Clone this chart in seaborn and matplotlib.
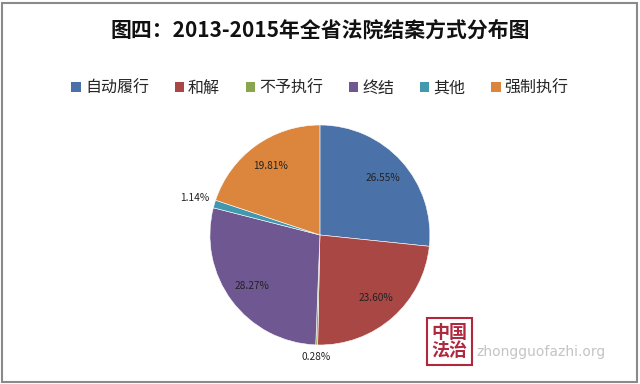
import numpy as np
import matplotlib
matplotlib.use("Agg")
import matplotlib.pyplot as plt
from matplotlib.patches import Rectangle
import seaborn as sns

categories = ["自动履行", "和解", "不予执行", "终结", "其他", "强制执行"]
values = [26.55, 23.60, 0.28, 28.27, 1.14, 19.81]
colors = ["#4A72A8", "#A94744", "#8AA54E", "#6F5791", "#4298AF", "#DC853D"]
title = "图四：2013-2015年全省法院结案方式分布图"

sns.set_theme(style="white")
plt.rcParams["font.family"] = ["Noto Sans CJK SC", "DejaVu Sans"]

palette = sns.color_palette(colors)
fig = plt.figure(figsize=(6.4, 3.84), dpi=100)
fig.patch.set_facecolor("white")

ax = fig.add_axes([0.328, 0.1016, 0.34375, 0.5729])
wedges, _ = ax.pie(values, colors=palette, startangle=90, counterclock=False,
                   radius=1.0, wedgeprops=dict(edgecolor="white", linewidth=0.4))
ax.set_xlim(-1, 1)
ax.set_ylim(-1, 1)
ax.set_aspect("equal")
ax.axis("off")

# label placement: inside for large slices, outside for tiny ones
outside_dist = {2: 1.11, 4: 1.19}
for i, (w, v) in enumerate(zip(wedges, values)):
    ang = np.deg2rad((w.theta1 + w.theta2) / 2)
    d = outside_dist.get(i, 0.77)
    ax.text(d * np.cos(ang), d * np.sin(ang), f"{v:.2f}%", ha="center", va="center",
            fontsize=7.3, color="#222222", clip_on=False)

fig.text(0.5, 1 - 30 / 384, title, ha="center", va="center", fontsize=15,
         fontweight="bold", color="#111111")

handles = [Rectangle((0, 0), 1, 1, facecolor=c, edgecolor="none") for c in palette]
fig.legend(handles, categories, loc="center", bbox_to_anchor=(0.5, 1 - 88 / 384),
           ncol=6, frameon=False, fontsize=11.5, handlelength=0.6, handleheight=0.6,
           handletextpad=0.25, columnspacing=1.6)

# watermark
fig.patches.append(Rectangle((427 / 640, 1 - 365 / 384), 45 / 640, 47 / 384,
                             transform=fig.transFigure, facecolor="white",
                             edgecolor="#B0283E", linewidth=1.5))
fig.text(449.5 / 640, 1 - 341.5 / 384, "中国\n法治", ha="center", va="center",
         fontsize=13, color="#B0283E", fontweight="bold", linespacing=0.9)
fig.text(476 / 640, 1 - 352 / 384, "zhongguofazhi.org", ha="left", va="center",
         fontsize=10, color="#C4C4C4", family="DejaVu Sans")

# outer border
fig.patches.append(Rectangle((2 / 640, 2 / 384), 635 / 640, 379 / 384,
                             transform=fig.transFigure, facecolor="none",
                             edgecolor="#8A8A8A", linewidth=1.5))

fig.savefig("out.png", dpi=100)
